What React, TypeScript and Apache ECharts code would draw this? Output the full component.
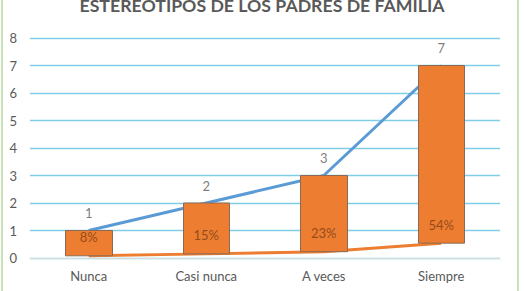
import React, { useEffect, useRef } from "react";
import * as echarts from "echarts";

const categories = ["Nunca", "Casi nunca", "A veces", "Siempre"];
const counts = [1, 2, 3, 7];
const shares = [0.08, 0.15, 0.23, 0.54];
const yTicks = [0, 8, 1];

const FONT = "Lato, 'Open Sans', sans-serif";

export default function App() {
  const ref = useRef<HTMLDivElement>(null);

  useEffect(() => {
    document.body.style.margin = "0";
    const chart = echarts.init(ref.current!, undefined, { renderer: "svg" });
    chart.setOption({
      animation: false,
      backgroundColor: "#ffffff",
      textStyle: { fontFamily: FONT },
      title: {
        text: "ESTEREOTIPOS DE LOS PADRES DE FAMILIA",
        left: "center",
        top: -9,
        textStyle: { fontFamily: FONT, fontSize: 17.7, fontWeight: "bold", color: "#595959" },
      },
      graphic: [
        {
          type: "rect",
          shape: { x: 2, y: -10, width: 516, height: 320 },
          style: { fill: "none", stroke: "#b5d99c", lineWidth: 1.5 },
          silent: true,
        },
      ],
      grid: { left: 30, right: 24, top: 38, bottom: 33 },
      xAxis: {
        type: "category",
        data: categories,
        axisTick: { show: false },
        axisLine: { lineStyle: { color: "#d9d9d9", width: 1 } },
        axisLabel: { color: "#595959", fontSize: 13, margin: 11, fontFamily: FONT },
      },
      yAxis: {
        type: "value",
        min: yTicks[0],
        max: yTicks[1],
        interval: yTicks[2],
        axisLine: { show: false },
        axisTick: { show: false },
        axisLabel: { color: "#595959", fontSize: 13, margin: 13, fontFamily: FONT },
        splitLine: { lineStyle: { color: "#7fcde8", width: 1.3 } },
      },
      series: [
        {
          type: "line",
          data: counts,
          z: 1,
          symbol: "circle",
          symbolSize: 1,
          itemStyle: { opacity: 0 },
          lineStyle: { color: "#5b9bd5", width: 3 },
        },
        {
          type: "line",
          data: shares,
          z: 1,
          symbol: "none",
          lineStyle: { color: "#ed7d31", width: 3 },
        },
        {
          type: "candlestick",
          z: 3,
          barWidth: 47,
          data: shares.map((s, i) => [s, counts[i], s, counts[i]]),
          itemStyle: {
            color: "#ed7d31",
            color0: "#ed7d31",
            borderColor: "#8a6a55",
            borderColor0: "#8a6a55",
            borderWidth: 1,
          },
        },
        {
          type: "scatter",
          data: counts,
          z: 4,
          symbolSize: 0,
          silent: true,
          label: {
            show: true,
            position: "top",
            distance: 11,
            color: "#595959",
            fontSize: 13,
            fontFamily: FONT,
          },
        },
        {
          type: "scatter",
          data: shares,
          z: 4,
          symbolSize: 0,
          silent: true,
          label: {
            show: true,
            position: "top",
            distance: 12,
            color: "#7a3d14",
            fontSize: 13,
            fontFamily: FONT,
            formatter: (p: any) => Math.round(p.value * 100) + "%",
          },
        },
      ],
    });
    return () => chart.dispose();
  }, []);

  return <div ref={ref} style={{ width: 524, height: 291 }} />;
}
